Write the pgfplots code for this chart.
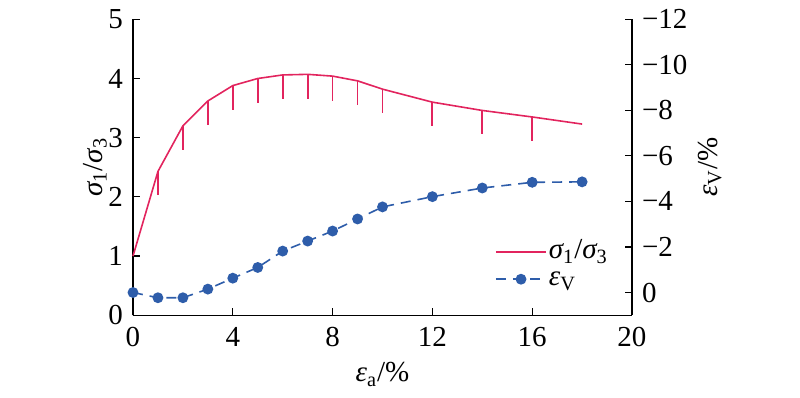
\documentclass[border=0pt]{standalone}
\usepackage{pgfplots}
\pgfplotsset{compat=1.18}
\usepackage{fontspec}
\setmainfont{Liberation Serif}
\definecolor{cred}{RGB}{226,36,94}
\definecolor{cblue}{RGB}{46,93,170}
\begin{document}
\fontsize{14.5}{17}\selectfont
\begin{tikzpicture}
\pgfplotsset{
  every axis/.append style={
    scale only axis, width=249.5pt, height=148pt,
    at={(0,0)}, anchor=south west,
    font=\fontsize{14.5}{17}\selectfont,
    tick align=inside, major tick length=3.5pt,
    every tick/.style={black, line width=0.6pt},
    axis line style={black, line width=0.6pt},
    /pgf/number format/assume math mode=true,
    xmin=0, xmax=20, clip=false,
    xticklabel style={yshift=-1pt},
  }
}
\begin{axis}[
  axis x line*=bottom, axis y line*=left,
  ymin=0, ymax=5, ytick={0,1,2,3,4,5},
  xtick={0,4,8,12,16,20},
  xlabel={{\itshape ε}\textsubscript{a}/\%},
  ylabel={{\itshape σ}\textsubscript{1}/{\itshape σ}\textsubscript{3}},
  every axis x label/.style={at={(axis description cs:0.5,-0.2)}, anchor=center},
  every axis y label/.style={at={(axis description cs:-0.076,0.5)}, rotate=90, anchor=center},
]
\addplot[cred, line width=0.8pt, mark=none,
  error bars/.cd, y dir=minus, y explicit, error mark=none,
  error bar style={cred, line width=0.9pt}]
  coordinates {
  (0,1.00) -= (0,0)
  (1,2.43) -= (0,0.40)
  (2,3.20) -= (0,0.41)
  (3,3.62) -= (0,0.41)
  (4,3.88) -= (0,0.41)
  (5,4.00) -= (0,0.41)
  (6,4.06) -= (0,0.41)
  (7,4.07) -= (0,0.41)
  (8,4.04) -= (0,0.42)
  (9,3.96) -= (0,0.41)
  (10,3.82) -= (0,0.41)
  (12,3.60) -= (0,0.40)
  (14,3.46) -= (0,0.40)
  (16,3.35) -= (0,0.41)
  (18,3.23) -= (0,0)
  };
\end{axis}
\begin{axis}[
  axis x line=none, axis y line*=right,
  ymin=-12, ymax=1, y dir=reverse,
  ytick={-12,-10,-8,-6,-4,-2,0},
  yticklabels={−12,−10,−8,−6,−4,−2,0},
  ylabel={{\itshape ε}\textsubscript{V}/\%},
  every axis y label/.style={at={(axis description cs:1.156,0.5)}, rotate=90, anchor=center},
  legend style={draw=none, fill=none, at={(axis description cs:0.725,0.26)}, anchor=north west,
    font=\fontsize{14.5}{17}\selectfont, row sep=0pt, inner sep=0pt,
    nodes={inner sep=1pt, text height=9pt, text depth=2.5pt}},
  legend cell align=left,
  legend image code/.code={\draw[mark repeat=2,mark phase=2,#1] plot coordinates {(0cm,0cm) (0.44cm,0cm) (0.88cm,0cm)};},
]
\addlegendimage{cred, line width=0.8pt}
\addlegendentry{{\itshape σ}\textsubscript{1}/{\itshape σ}\textsubscript{3}}
\addplot[cblue, line width=0.8pt, dash pattern=on 5pt off 3.5pt,
  mark=*, mark size=2.3pt, mark options={solid, fill=cblue, draw=cblue}]
  coordinates {
  (0,0.0) (1,0.23) (2,0.23) (3,-0.15) (4,-0.63) (5,-1.10) (6,-1.82)
  (7,-2.26) (8,-2.70) (9,-3.23) (10,-3.76) (12,-4.21) (14,-4.59)
  (16,-4.84) (18,-4.86)
  };
\addlegendentry{{\itshape ε}\textsubscript{V}}
\end{axis}
\path (-66.5pt,-41pt) rectangle (333.5pt,157pt);
\end{tikzpicture}
\end{document}
